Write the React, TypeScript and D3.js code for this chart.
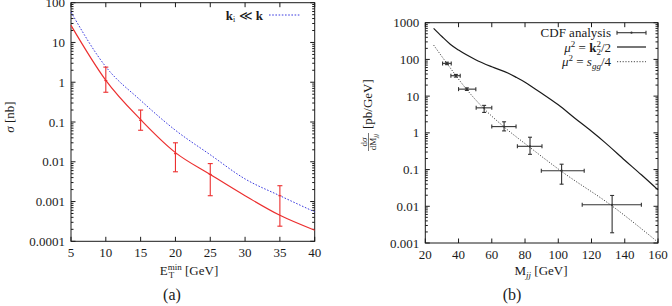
import React from 'react';
import * as d3 from 'd3';

// (a) cross section vs. minimum jet E_T
const etTicks = [5, 10, 15, 20, 25, 30, 35, 40];
const sigmaTicks = [0.0001, 0.001, 0.01, 0.1, 1, 10, 100];
const sigmaTickLabels = ['0.0001', '0.001', '0.01', '0.1', '1', '10', '100'];

const curveEt = [5, 10, 15, 20, 25, 30, 35, 40];
const sigmaFull = [27, 1.12, 0.115, 0.017, 0.0048, 0.0014, 0.00045, 0.00019];
const sigmaSmallKi = [58, 2.45, 0.35, 0.062, 0.015, 0.0037, 0.0014, 0.00055];

const dataEt = [10, 15, 20, 25, 35];
const dataSigma = [1.1, 0.11, 0.016, 0.0048, 0.0014];
const dataSigmaLo = [0.56, 0.062, 0.0056, 0.0014, 0.00024];
const dataSigmaHi = [2.4, 0.2, 0.03, 0.009, 0.0025];

// (b) dijet invariant mass spectrum
const mTicks = [20, 40, 60, 80, 100, 120, 140, 160];
const dsTicks = [0.001, 0.01, 0.1, 1, 10, 100, 1000];
const dsTickLabels = ['0.001', '0.01', '0.1', '1', '10', '100', '1000'];

const curveMk = [25, 30, 35, 40, 50, 60, 70, 75, 80, 85, 90, 100, 110, 120, 128, 140, 150, 160];
const dsK2 = [700, 420, 260, 180, 100, 63, 42, 32, 24, 17, 12, 5.8, 2.5, 1.1, 0.55, 0.18, 0.072, 0.028];
const curveMs = [25, 33, 45, 55, 67, 83, 102, 132, 160];
const dsSgg = [246, 78, 15, 4.7, 1.5, 0.4, 0.089, 0.0105, 0.00105];

const cdfM = [33, 38.4, 45, 55.4, 67.4, 83, 102, 132.4];
const cdfMLo = [30.4, 35.4, 40, 50.6, 60, 75.4, 89.8, 114.4];
const cdfMHi = [35.6, 41, 50.4, 60, 74.6, 90.2, 115.6, 150];
const cdfDs = [78, 36, 15.5, 4.8, 1.48, 0.43, 0.093, 0.011];
const cdfDsLo = [72, 33, 14.3, 3.6, 1.13, 0.26, 0.04, 0.0019];
const cdfDsHi = [84, 39, 16.8, 5.6, 2.0, 0.76, 0.14, 0.0197];

const FONT = 'Liberation Serif, DejaVu Serif, serif';
const RED = '#ec2f2f';
const BLUE = '#3a3ae0';
const INK = '#1a1a1a';

const minorLog = (lo: number, hi: number) => {
  const out: number[] = [];
  for (let e = Math.floor(Math.log10(lo)); e < Math.ceil(Math.log10(hi)); e++) {
    for (let k = 2; k <= 9; k++) {
      const v = k * Math.pow(10, e);
      if (v > lo && v < hi) out.push(v);
    }
  }
  return out;
};

interface FrameProps {
  x: d3.ScaleLinear<number, number>;
  y: d3.ScaleLogarithmic<number, number>;
  xTicks: number[];
  yTicks: number[];
  yLabels: string[];
}

const Frame: React.FC<FrameProps> = ({ x, y, xTicks, yTicks, yLabels }) => {
  const [x0, x1] = x.range();
  const [y0, y1] = y.range();
  const [d0, d1] = y.domain();
  const major = 4.5;
  const minor = 2.5;
  return (
    <g stroke={INK} strokeWidth={1}>
      <rect x={x0} y={y1} width={x1 - x0} height={y0 - y1} fill="none" />
      {xTicks.map(t => (
        <g key={'x' + t}>
          <line x1={x(t)} x2={x(t)} y1={y0} y2={y0 - major} />
          <line x1={x(t)} x2={x(t)} y1={y1} y2={y1 + major} />
          <text x={x(t)} y={y0 + 16} textAnchor="middle" stroke="none" fill={INK}
            fontSize={13}>{t}</text>
        </g>
      ))}
      {yTicks.map((t, i) => (
        <g key={'y' + t}>
          <line x1={x0} x2={x0 + major} y1={y(t)} y2={y(t)} />
          <line x1={x1} x2={x1 - major} y1={y(t)} y2={y(t)} />
          <text x={x0 - 6} y={y(t)} dy="0.35em" textAnchor="end" stroke="none" fill={INK}
            fontSize={13}>{yLabels[i]}</text>
        </g>
      ))}
      {minorLog(d0, d1).map(t => (
        <g key={'m' + t}>
          <line x1={x0} x2={x0 + minor} y1={y(t)} y2={y(t)} />
          <line x1={x1} x2={x1 - minor} y1={y(t)} y2={y(t)} />
        </g>
      ))}
    </g>
  );
};

const App: React.FC = () => {
  const xA = d3.scaleLinear().domain([5, 40]).range([71, 314.7]);
  const yA = d3.scaleLog().domain([0.0001, 100]).range([241.3, 2.7]);
  const xB = d3.scaleLinear().domain([20, 160]).range([425.3, 658]);
  const yB = d3.scaleLog().domain([0.001, 1000]).range([243, 22.7]);

  const lineA = d3.line<[number, number]>()
    .x(d => xA(d[0])).y(d => yA(d[1])).curve(d3.curveMonotoneX);
  const lineB = d3.line<[number, number]>()
    .x(d => xB(d[0])).y(d => yB(d[1])).curve(d3.curveMonotoneX);

  const zip = (a: number[], b: number[]) => a.map((v, i) => [v, b[i]] as [number, number]);

  return (
    <svg width={672} height={306} viewBox="0 0 672 306"
      style={{ position: 'absolute', left: 0, top: 0, background: '#fff', fontFamily: FONT }}>
      {/* panel (a) */}
      <Frame x={xA} y={yA} xTicks={etTicks} yTicks={sigmaTicks} yLabels={sigmaTickLabels} />
      <path d={lineA(zip(curveEt, sigmaSmallKi)) || ''} fill="none" stroke={BLUE}
        strokeWidth={1} strokeDasharray="1.6,1.6" />
      <path d={lineA(zip(curveEt, sigmaFull)) || ''} fill="none" stroke={RED} strokeWidth={1.2} />
      <g stroke={RED} strokeWidth={1.1}>
        {dataEt.map((e, i) => (
          <g key={e}>
            <line x1={xA(e)} x2={xA(e)} y1={yA(dataSigmaLo[i])} y2={yA(dataSigmaHi[i])} />
            <line x1={xA(e) - 2.5} x2={xA(e) + 2.5} y1={yA(dataSigmaLo[i])} y2={yA(dataSigmaLo[i])} />
            <line x1={xA(e) - 2.5} x2={xA(e) + 2.5} y1={yA(dataSigmaHi[i])} y2={yA(dataSigmaHi[i])} />
            <line x1={xA(e) - 1.5} x2={xA(e) + 1.5} y1={yA(dataSigma[i])} y2={yA(dataSigma[i])} />
          </g>
        ))}
      </g>
      <text x={263} y={19.5} textAnchor="end" fontSize={13} fill={INK}>
        <tspan fontWeight="bold">k</tspan>
        <tspan fontSize={8} dy={2.5}>i</tspan>
        <tspan dy={-2.5}> ≪ </tspan>
        <tspan fontWeight="bold">k</tspan>
      </text>
      <line x1={269} x2={300} y1={15} y2={15} stroke={BLUE} strokeWidth={1} strokeDasharray="1.6,1.6" />

      <g transform="translate(14,117) rotate(-90)">
        <text textAnchor="middle" fontSize={13} fill={INK}>
          <tspan fontStyle="italic">σ</tspan> [nb]
        </text>
      </g>
      <text x={189} y={275} textAnchor="middle" fontSize={13} fill={INK}>
        E<tspan fontSize={9} dy={-5}>min</tspan>
        <tspan fontSize={9} dx={-13} dy={8}>T</tspan>
        <tspan dx={7.5} dy={-3}> [GeV]</tspan>
      </text>
      <text x={172} y={300} textAnchor="middle" fontSize={16} fill={INK}>(a)</text>

      {/* panel (b) */}
      <Frame x={xB} y={yB} xTicks={mTicks} yTicks={dsTicks} yLabels={dsTickLabels} />
      <path d={lineB(zip(curveMs, dsSgg)) || ''} fill="none" stroke={INK}
        strokeWidth={0.8} strokeDasharray="1.2,1.6" />
      <path d={lineB(zip(curveMk, dsK2)) || ''} fill="none" stroke={INK} strokeWidth={1.2} />
      <g stroke="#333" strokeWidth={1.1}>
        {cdfM.map((m, i) => {
          const cx = xB(m);
          const cy = yB(cdfDs[i]);
          return (
            <g key={m}>
              <line x1={xB(cdfMLo[i])} x2={xB(cdfMHi[i])} y1={cy} y2={cy} />
              <line x1={xB(cdfMLo[i])} x2={xB(cdfMLo[i])} y1={cy - 2} y2={cy + 2} />
              <line x1={xB(cdfMHi[i])} x2={xB(cdfMHi[i])} y1={cy - 2} y2={cy + 2} />
              <line x1={cx} x2={cx} y1={yB(cdfDsLo[i])} y2={yB(cdfDsHi[i])} />
              <line x1={cx - 2} x2={cx + 2} y1={yB(cdfDsLo[i])} y2={yB(cdfDsLo[i])} />
              <line x1={cx - 2} x2={cx + 2} y1={yB(cdfDsHi[i])} y2={yB(cdfDsHi[i])} />
              <circle cx={cx} cy={cy} r={1.1} fill="#333" stroke="none" />
            </g>
          );
        })}
      </g>

      <g fontSize={13} fill={INK}>
        <text x={611} y={37} textAnchor="end">CDF analysis</text>
        <text x={611} y={51.5} textAnchor="end">
          <tspan fontStyle="italic">μ</tspan>
          <tspan fontSize={9} dy={-5}>2</tspan>
          <tspan dy={5}> = </tspan>
          <tspan fontWeight="bold">k</tspan>
          <tspan fontSize={9} dy={-5}>2</tspan>
          <tspan fontSize={9} dx={-4.5} dy={8}>2</tspan>
          <tspan dy={-3}>/2</tspan>
        </text>
        <text x={611} y={66} textAnchor="end">
          <tspan fontStyle="italic">μ</tspan>
          <tspan fontSize={9} dy={-5}>2</tspan>
          <tspan dy={5}> = </tspan>
          <tspan fontStyle="italic">s</tspan>
          <tspan fontSize={9} fontStyle="italic" dy={3}>gg</tspan>
          <tspan dy={-3}>/4</tspan>
        </text>
      </g>
      <g stroke="#333" strokeWidth={1.1}>
        <line x1={617} x2={646} y1={32.7} y2={32.7} />
        <line x1={617} x2={617} y1={30.7} y2={34.7} />
        <line x1={646} x2={646} y1={30.7} y2={34.7} />
        <circle cx={631.5} cy={32.7} r={1.1} fill="#333" stroke="none" />
      </g>
      <line x1={617} x2={646} y1={47} y2={47} stroke={INK} strokeWidth={1.2} />
      <line x1={617} x2={646} y1={61.7} y2={61.7} stroke={INK} strokeWidth={0.8} strokeDasharray="1.2,1.6" />

      <g transform="translate(372,116) rotate(-90)" fill={INK}>
        <text x={-26} y={-5} textAnchor="middle" fontSize={9}>
          d<tspan fontStyle="italic">σ</tspan>
        </text>
        <line x1={-35} x2={-17} y1={-3.5} y2={-3.5} stroke={INK} strokeWidth={0.6} />
        <text x={-26} y={4} textAnchor="middle" fontSize={9}>
          dM<tspan fontSize={7} fontStyle="italic" dy={1.5}>jj</tspan>
        </text>
        <text x={-13} y={0} textAnchor="start" fontSize={13}>[pb/GeV]</text>
      </g>
      <text x={541} y={275} textAnchor="middle" fontSize={13} fill={INK}>
        M<tspan fontSize={9} fontStyle="italic" dy={3}>jj</tspan>
        <tspan dy={-3}> [GeV]</tspan>
      </text>
      <text x={512} y={300} textAnchor="middle" fontSize={16} fill={INK}>(b)</text>
    </svg>
  );
};

export default App;
